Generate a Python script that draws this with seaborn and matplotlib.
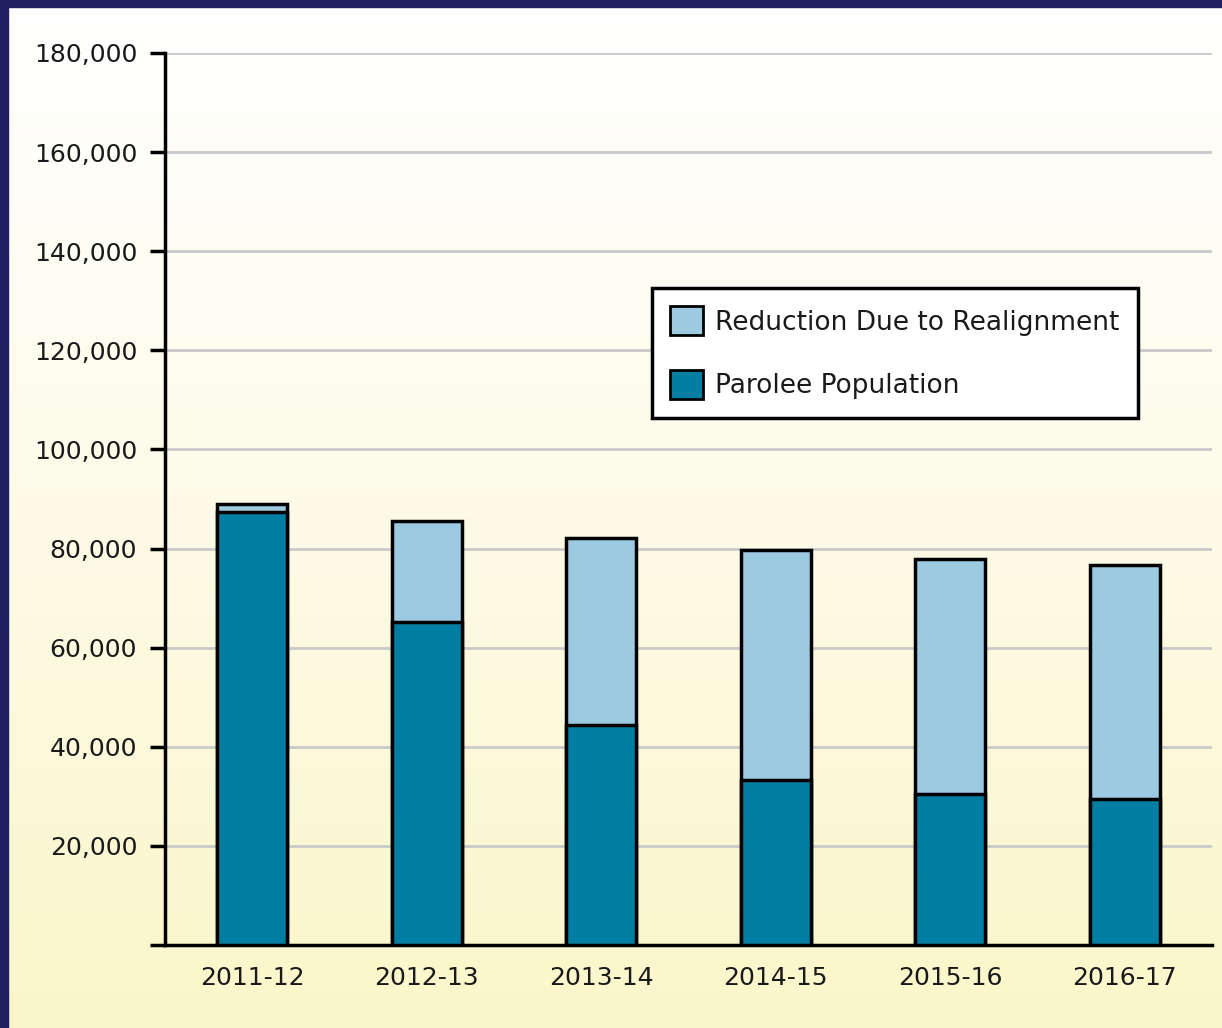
import matplotlib
matplotlib.use("Agg")
import matplotlib.pyplot as plt
import numpy as np
import pandas as pd
import seaborn as sns
from matplotlib.colors import LinearSegmentedColormap
from matplotlib.patches import Patch, Rectangle

years = ["2011-12", "2012-13", "2013-14", "2014-15", "2015-16", "2016-17"]
parolee = [87400, 65200, 44400, 33300, 30500, 29500]
total = [89000, 85600, 82100, 79700, 77900, 76700]
ytick_vals = [0, 20000, 40000, 60000, 80000, 100000, 120000, 140000, 160000, 180000]

dark = "#037ea3"
light = "#9ccbe1"
navy = "#201e62"

sns.set_style("white")
plt.rcParams["font.family"] = ["DejaVu Sans"]
plt.rcParams["font.size"] = 18

df = pd.DataFrame({"year": years, "parolee": parolee, "total": total})

fig = plt.figure(figsize=(12.22, 10.28), dpi=100)

# gradient background
bg = fig.add_axes([0, 0, 1, 1], zorder=-10)
cmap = LinearSegmentedColormap.from_list("bg", ["#ffffff", "#fdfbe8", "#fbf6c9"])
grad = np.linspace(0, 1, 256).reshape(-1, 1)
bg.imshow(grad, aspect="auto", cmap=cmap, extent=[0, 1, 0, 1], origin="upper")
bg.set_axis_off()
fig.patches.append(Rectangle((0, 0), 8 / 1222, 1, transform=fig.transFigure,
                             color=navy, zorder=5))
fig.patches.append(Rectangle((0, 1 - 7 / 1028), 1, 7 / 1028, transform=fig.transFigure,
                             color=navy, zorder=5))

ax = fig.add_axes([165 / 1222, 83 / 1028, 1047 / 1222, 892 / 1028])
ax.set_facecolor("none")

sns.barplot(data=df, x="year", y="total", color=light, width=0.4,
            edgecolor="black", linewidth=2.5, saturation=1, ax=ax, zorder=3)
sns.barplot(data=df, x="year", y="parolee", color=dark, width=0.4,
            edgecolor="black", linewidth=2.5, saturation=1, ax=ax, zorder=4)

ax.set_xlim(-0.5, len(years) - 0.5)
ax.set_ylim(0, 180000)
ax.set_xlabel("")
ax.set_ylabel("")

ax.set_yticks(ytick_vals)
ax.set_yticklabels(["" if v == 0 else f"{v:,}" for v in ytick_vals])
ax.yaxis.grid(True, color="#c9c9c9", linewidth=2, zorder=0)
ax.set_axisbelow(True)

ax.set_xticks(range(len(years)))
ax.set_xticklabels(years)
ax.set_xticks(np.arange(-0.5, len(years), 1.0), minor=True)
ax.tick_params(axis="x", which="major", length=0, pad=15, labelcolor="#1a1a1a")
ax.tick_params(axis="x", which="minor", length=10, width=2.5, color="black")
ax.tick_params(axis="y", length=11, width=2.5, color="black", pad=9,
               labelcolor="#1a1a1a", left=True)

for s in ["top", "right"]:
    ax.spines[s].set_visible(False)
for s in ["left", "bottom"]:
    ax.spines[s].set_linewidth(2.5)
    ax.spines[s].set_color("black")

handles = [Patch(facecolor=light, edgecolor="black", linewidth=2),
           Patch(facecolor=dark, edgecolor="black", linewidth=2)]
leg = ax.legend(handles, ["Reduction Due to Realignment", "Parolee Population"],
                loc="upper left", bbox_to_anchor=(487 / 1047, 1 - 235 / 892),
                borderaxespad=0,
                frameon=True, fancybox=False, framealpha=1, edgecolor="black",
                handlelength=1.25, handleheight=1.3, handletextpad=0.45,
                labelspacing=1.3, borderpad=0.7, fontsize=19)
leg.get_frame().set_linewidth(2.5)
for t in leg.get_texts():
    t.set_color("#1a1a1a")

fig.savefig("out.png", dpi=100)
